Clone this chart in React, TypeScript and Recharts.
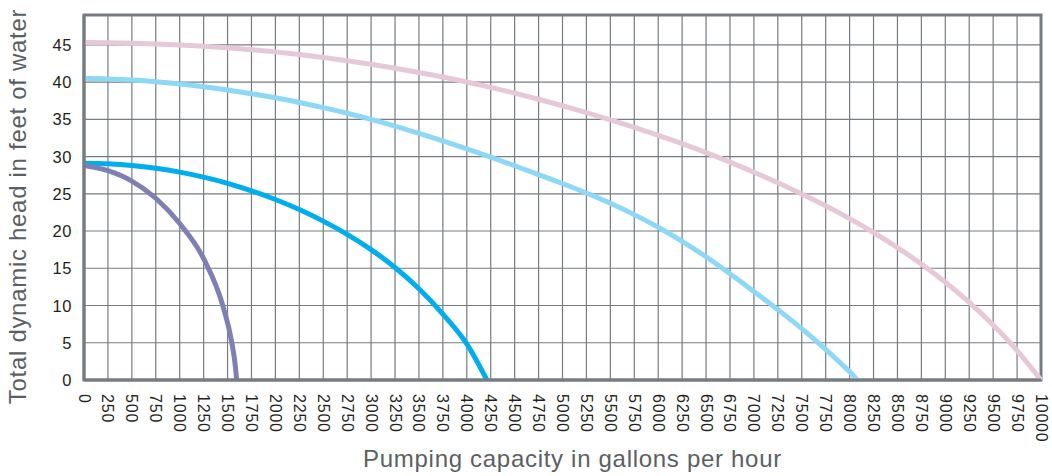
import React from "react";
import {
  LineChart,
  Line,
  XAxis,
  YAxis,
  CartesianGrid,
  ReferenceArea,
} from "recharts";

// Flow ticks (gallons per hour)
const flowTicks = [
  0, 250, 500, 750, 1000, 1250, 1500, 1750, 2000, 2250, 2500, 2750, 3000,
  3250, 3500, 3750, 4000, 4250, 4500, 4750, 5000, 5250, 5500, 5750, 6000,
  6250, 6500, 6750, 7000, 7250, 7500, 7750, 8000, 8250, 8500, 8750, 9000,
  9250, 9500, 9750, 10000,
];
const headTicks = [0, 5, 10, 15, 20, 25, 30, 35, 40, 45];

// Pink curve (largest pump)
const pinkFlow = [
  0, 250, 500, 750, 1000, 1250, 1500, 1750, 2000, 2250, 2500, 2750, 3000,
  3250, 3500, 3750, 4000, 4250, 4500, 4750, 5000, 5250, 5500, 5750, 6000,
  6250, 6500, 6750, 7000, 7250, 7500, 7750, 8000, 8250, 8500, 8750, 9000,
  9250, 9500, 9750, 10000,
];
const pinkHead = [
  45.3, 45.27, 45.2, 45.1, 44.97, 44.8, 44.6, 44.35, 44.05, 43.7, 43.3,
  42.86, 42.38, 41.86, 41.29, 40.67, 40.0, 39.28, 38.51, 37.69, 36.82, 35.9,
  34.93, 33.9, 32.85, 31.72, 30.52, 29.25, 27.9, 26.48, 24.98, 23.38, 21.66,
  19.8, 17.78, 15.56, 13.12, 10.42, 7.38, 3.95, 0,
];

// Light blue curve
const lightFlow = [
  0, 250, 500, 750, 1000, 1250, 1500, 1750, 2000, 2250, 2500, 2750, 3000,
  3250, 3500, 3750, 4000, 4250, 4500, 4750, 5000, 5250, 5500, 5750, 6000,
  6250, 6500, 6750, 7000, 7250, 7500, 7750, 8000, 8080,
];
const lightHead = [
  40.5, 40.42, 40.27, 40.05, 39.75, 39.38, 38.94, 38.44, 37.88, 37.26, 36.57,
  35.81, 34.98, 34.08, 33.12, 32.1, 31.03, 29.91, 28.76, 27.58, 26.38, 25.1,
  23.72, 22.2, 20.5, 18.62, 16.54, 14.26, 11.88, 9.45, 6.9, 4.1, 1.1, 0,
];

// Blue curve
const blueFlow = [
  0, 250, 500, 750, 1000, 1250, 1500, 1750, 2000, 2250, 2500, 2750, 3000,
  3250, 3500, 3750, 4000, 4210,
];
const blueHead = [
  29.1, 29.02, 28.8, 28.43, 27.91, 27.23, 26.4, 25.4, 24.23, 22.88, 21.33,
  19.55, 17.5, 15.1, 12.25, 8.85, 4.85, 0,
];

// Purple curve (smallest pump)
const purpleFlow = [0, 250, 500, 750, 1000, 1250, 1450, 1545, 1580, 1595];
const purpleHead = [28.8, 28.1, 26.7, 24.4, 21.0, 16.3, 10.0, 5.0, 2.0, 0];

const zip = (xs: number[], ys: number[]) =>
  xs.map((x, i) => ({ flow: x, head: ys[i] }));

const pinkData = zip(pinkFlow, pinkHead);
const lightData = zip(lightFlow, lightHead);
const blueData = zip(blueFlow, blueHead);
const purpleData = zip(purpleFlow, purpleHead);

const FONT = '"Liberation Sans", Arial, Helvetica, sans-serif';
const GRID = "#777c81";

const XTick = (props: any) => {
  const { x, y, payload } = props;
  const ty = y + 6;
  return (
    <text
      x={x}
      y={ty}
      transform={`rotate(90 ${x} ${ty})`}
      textAnchor="start"
      dominantBaseline="central"
      fontFamily={FONT}
      fontSize={16}
      letterSpacing={0.8}
      fill="#231f20"
    >
      {payload.value}
    </text>
  );
};

const YTick = (props: any) => {
  const { x, y, payload } = props;
  return (
    <text
      x={x - 4}
      y={y}
      textAnchor="end"
      dominantBaseline="central"
      fontFamily={FONT}
      fontSize={16.5}
      letterSpacing={0.6}
      fill="#231f20"
    >
      {payload.value}
    </text>
  );
};

const XTitle = (props: any) => {
  const vb = props.viewBox || {};
  const cx = vb.x + vb.width / 2 + 10;
  return (
    <text
      x={cx}
      y={467}
      textAnchor="middle"
      fontFamily={FONT}
      fontSize={24}
      letterSpacing={0.7}
      fill="#5a5f64"
    >
      Pumping capacity in gallons per hour
    </text>
  );
};

const YTitle = (props: any) => {
  const vb = props.viewBox || {};
  const cy = vb.y + vb.height / 2 + 9;
  return (
    <text
      x={26}
      y={cy}
      transform={`rotate(-90 26 ${cy})`}
      textAnchor="middle"
      fontFamily={FONT}
      fontSize={24}
      letterSpacing={0.7}
      fill="#5a5f64"
    >
      Total dynamic head in feet of water
    </text>
  );
};

export default function App() {
  return (
    <div
      style={{
        position: "absolute",
        left: 0,
        top: 0,
        width: 1052,
        height: 476,
        background: "#ffffff",
      }}
    >
      <LineChart
        width={1052}
        height={476}
        margin={{ top: 15, right: 11, bottom: 0, left: 0 }}
      >
        <CartesianGrid stroke={GRID} strokeWidth={1.2} />
        <XAxis
          type="number"
          dataKey="flow"
          domain={[0, 10000]}
          ticks={flowTicks}
          interval={0}
          height={96}
          tickLine={false}
          axisLine={{ stroke: GRID, strokeWidth: 3 }}
          tick={<XTick />}
          label={<XTitle />}
          allowDuplicatedCategory={false}
        />
        <YAxis
          type="number"
          domain={[0, 49]}
          ticks={headTicks}
          interval={0}
          width={84}
          tickLine={false}
          axisLine={{ stroke: GRID, strokeWidth: 3 }}
          tick={<YTick />}
          label={<YTitle />}
        />
        <ReferenceArea
          x1={0}
          x2={10000}
          y1={0}
          y2={49}
          fill="none"
          fillOpacity={0}
          stroke={GRID}
          strokeWidth={3}
        />
        <Line
          data={pinkData}
          dataKey="head"
          type="monotone"
          stroke="#e6c8d9"
          strokeWidth={5}
          dot={false}
          isAnimationActive={false}
        />
        <Line
          data={lightData}
          dataKey="head"
          type="monotone"
          stroke="#8cd8f6"
          strokeWidth={5}
          dot={false}
          isAnimationActive={false}
        />
        <Line
          data={blueData}
          dataKey="head"
          type="monotone"
          stroke="#00aeef"
          strokeWidth={5}
          dot={false}
          isAnimationActive={false}
        />
        <Line
          data={purpleData}
          dataKey="head"
          type="monotone"
          stroke="#7f7fb3"
          strokeWidth={5}
          dot={false}
          isAnimationActive={false}
        />
      </LineChart>
    </div>
  );
}
